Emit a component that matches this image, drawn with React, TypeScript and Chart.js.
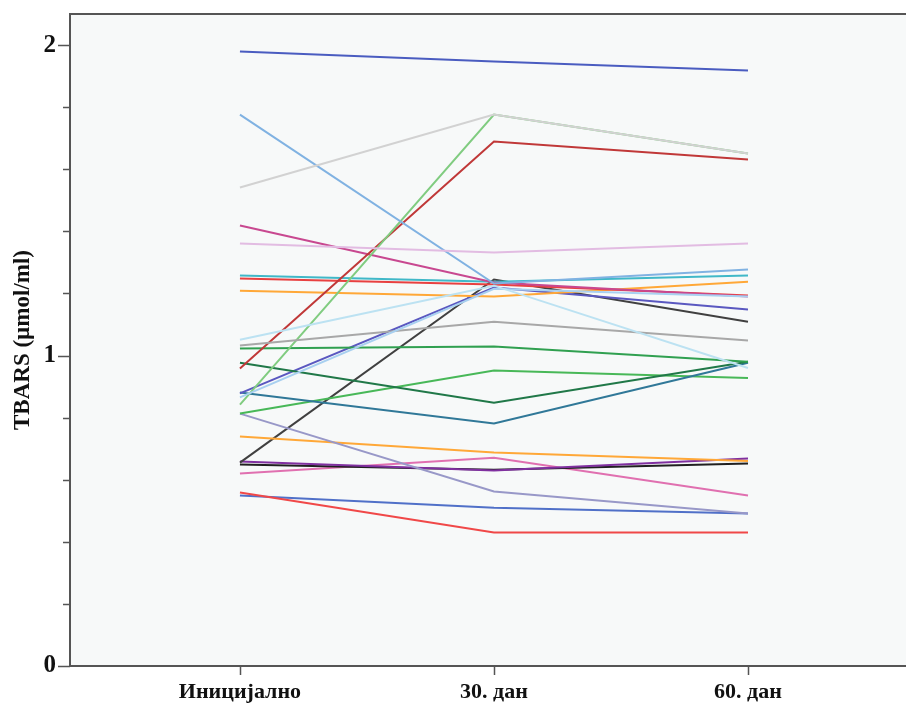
import React, { useEffect, useRef } from "react";
import { Chart, registerables } from "chart.js";

Chart.register(...registerables);

const categories = ["Иницијално", "30. дан", "60. дан"];
const yTickLabels = ["0", "1", "2"];
const yTitle = "TBARS (µmol/ml)";

const s01 = [1.979, 1.947, 1.918];
const s02 = [1.776, 1.232, 1.277];
const s03 = [1.541, 1.776, 1.651];
const s04 = [0.842, 1.776, 1.651];
const s05 = [0.958, 1.689, 1.631];
const s06 = [1.419, 1.235, 1.19];
const s07 = [1.361, 1.332, 1.361];
const s08 = [1.258, 1.238, 1.258];
const s09 = [1.248, 1.229, 1.193];
const s10 = [1.209, 1.19, 1.238];
const s11 = [1.051, 1.225, 0.96];
const s12 = [1.032, 1.109, 1.048];
const s13 = [1.023, 1.029, 0.98];
const s14 = [0.977, 0.848, 0.98];
const s15 = [0.878, 1.219, 1.148];
const s16 = [0.881, 0.781, 0.977];
const s17 = [0.865, 1.215, 1.19];
const s18 = [0.813, 0.952, 0.928];
const s19 = [0.813, 0.562, 0.491];
const s20 = [0.739, 0.688, 0.66];
const s21 = [0.655, 1.245, 1.109];
const s22 = [0.659, 0.63, 0.668];
const s23 = [0.649, 0.632, 0.652];
const s24 = [0.62, 0.671, 0.549];
const s25 = [0.559, 0.43, 0.43];
const s26 = [0.549, 0.51, 0.491];

const seriesList = [
  { v: s03, c: "#d2d2d2" },
  { v: s07, c: "#e2bce2" },
  { v: s11, c: "#bce2f2" },
  { v: s02, c: "#80b2e2" },
  { v: s17, c: "#a8d0f0" },
  { v: s12, c: "#a8a8a8" },
  { v: s01, c: "#4a5cc0" },
  { v: s04, c: "#80cc80" },
  { v: s05, c: "#c03838" },
  { v: s06, c: "#c84890" },
  { v: s08, c: "#40b8c8" },
  { v: s09, c: "#e84040" },
  { v: s10, c: "#ffa838" },
  { v: s13, c: "#30a050" },
  { v: s14, c: "#207848" },
  { v: s15, c: "#5a58c0" },
  { v: s16, c: "#307898" },
  { v: s18, c: "#48b858" },
  { v: s19, c: "#9898c8" },
  { v: s20, c: "#ffa838" },
  { v: s21, c: "#404040" },
  { v: s22, c: "#8030a0" },
  { v: s23, c: "#202020" },
  { v: s24, c: "#e070b0" },
  { v: s25, c: "#f04848" },
  { v: s26, c: "#5070c8" },
];

const FONT = "'Liberation Serif', 'DejaVu Serif', serif";

const framePlugin = {
  id: "frame",
  beforeDraw(chart: any) {
    const { ctx, chartArea: a } = chart;
    ctx.save();
    ctx.fillStyle = "#f7f9f9";
    ctx.fillRect(a.left, a.top, a.right - a.left, a.bottom - a.top);
    ctx.restore();
  },
  afterDraw(chart: any) {
    const { ctx, chartArea: a, scales } = chart;
    ctx.save();
    ctx.strokeStyle = "#555555";
    ctx.lineWidth = 2;
    ctx.beginPath();
    ctx.moveTo(a.right + 2, a.top);
    ctx.lineTo(a.left, a.top);
    ctx.lineTo(a.left, a.bottom);
    ctx.lineTo(a.right + 2, a.bottom);
    ctx.stroke();
    ctx.lineWidth = 1.5;
    ctx.beginPath();
    const y = scales.y;
    for (let v = 0; v <= 20; v += 2) {
      const val = v / 10;
      const py = Math.round(y.getPixelForValue(val)) + 0.5;
      const len = v % 10 === 0 ? 12 : 7;
      ctx.moveTo(a.left - len, py);
      ctx.lineTo(a.left, py);
    }
    const x = scales.x;
    for (let i = 0; i < categories.length; i++) {
      const px = Math.round(x.getPixelForValue(i)) + 0.5;
      ctx.moveTo(px, a.bottom);
      ctx.lineTo(px, a.bottom + 9);
    }
    ctx.stroke();
    ctx.restore();
  },
};

export default function App() {
  const ref = useRef<HTMLCanvasElement>(null);
  useEffect(() => {
    document.body.style.margin = "0";
    const canvas = ref.current!;
    const chart = new Chart(canvas, {
      type: "line",
      data: {
        datasets: seriesList.map((s, k) => ({
          label: "s" + k,
          data: s.v.map((y, i) => ({ x: i, y })),
          borderColor: s.c,
          backgroundColor: s.c,
          borderWidth: 2,
          pointRadius: 0,
          tension: 0,
          fill: false,
        })),
      },
      options: {
        responsive: false,
        animation: false,
        layout: { padding: { top: 14, right: 0, left: 0, bottom: 0 } },
        plugins: { legend: { display: false }, tooltip: { enabled: false } },
        scales: {
          x: {
            type: "linear",
            min: -0.669,
            max: 2.622,
            grid: { display: false, drawTicks: false },
            border: { display: false },
            afterBuildTicks: (sc: any) => {
              sc.ticks = categories.map((_, i) => ({ value: i }));
            },
            afterFit: (sc: any) => {
              sc.height = 40;
              sc.paddingLeft = 0;
              sc.paddingRight = 0;
            },
            ticks: {
              padding: 13,
              color: "#111",
              font: { family: FONT, size: 22, weight: "bold" },
              maxRotation: 0,
              autoSkip: false,
              callback: (v: any) => categories[v] ?? "",
            },
          },
          y: {
            type: "linear",
            min: 0,
            max: 2.1,
            grid: { display: false, drawTicks: false },
            border: { display: false },
            afterBuildTicks: (sc: any) => {
              sc.ticks = yTickLabels.map((t) => ({ value: Number(t) }));
            },
            afterFit: (sc: any) => {
              sc.width = 70;
              sc.paddingTop = 0;
              sc.paddingBottom = 0;
            },
            ticks: {
              padding: 14,
              color: "#111",
              font: { family: FONT, size: 25, weight: "bold" },
              callback: (v: any) => String(v),
            },
            title: {
              display: true,
              text: yTitle,
              color: "#111",
              padding: { top: 9, bottom: 0 },
              font: { family: FONT, size: 23, weight: "bold" },
            },
          },
        },
      },
      plugins: [framePlugin],
    });
    return () => chart.destroy();
  }, []);
  return (
    <div style={{ position: "absolute", left: 0, top: 0 }}>
      <canvas ref={ref} width={906} height={706} style={{ display: "block" }} />
    </div>
  );
}
